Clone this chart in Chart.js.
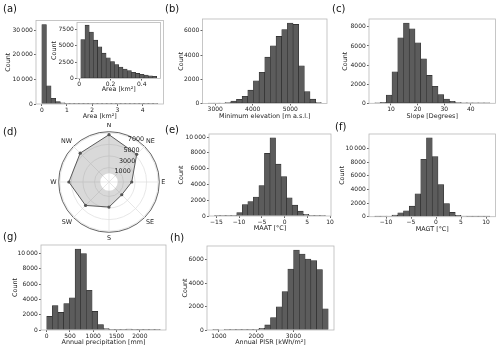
<!DOCTYPE html>
<html>
<head>
<meta charset="utf-8">
<script src="https://cdn.jsdelivr.net/npm/chart.js@4.4.0/dist/chart.umd.min.js"></script>
<style>
  body { margin: 0; background: #fff; }
  #wrap { position: relative; width: 500px; height: 351px; overflow: hidden; font-family: 'DejaVu Sans', sans-serif; }
  canvas { position: absolute; left: 0; top: 0; }
  .lab { position: absolute; font-size: 10px; line-height: 12px; color: #111; }
</style>
</head>
<body>
<div id="wrap">
  <canvas id="cA" width="500" height="351"></canvas>
  <canvas id="cAi" width="500" height="351"></canvas>
  <canvas id="cB" width="500" height="351"></canvas>
  <canvas id="cC" width="500" height="351"></canvas>
  <canvas id="cE" width="500" height="351"></canvas>
  <canvas id="cF" width="500" height="351"></canvas>
  <canvas id="cG" width="500" height="351"></canvas>
  <canvas id="cH" width="500" height="351"></canvas>
  <canvas id="cD" width="120" height="120" style="left:48px;top:123px"></canvas>
  <div class="lab" style="left:3px;top:3px">(a)</div>
  <div class="lab" style="left:165px;top:3px">(b)</div>
  <div class="lab" style="left:332px;top:3px">(c)</div>
  <div class="lab" style="left:3px;top:126px">(d)</div>
  <div class="lab" style="left:165px;top:124px">(e)</div>
  <div class="lab" style="left:335px;top:121px">(f)</div>
  <div class="lab" style="left:3px;top:231px">(g)</div>
  <div class="lab" style="left:170px;top:232px">(h)</div>
</div>
<script>
// (a) area, all glaciers
var areaStart = 0, areaWidth = 0.184;
var areaCounts = [32300, 7400, 2300, 950, 450, 250, 150, 100, 70, 50, 35, 25, 20, 15, 12, 10, 8, 6, 5, 4, 3, 2, 2, 1, 1];
var areaXTicks = [0, 1, 2, 3, 4];
var areaYTicks = [0, 10000, 20000, 30000];

// (a) inset, small glaciers
var smallStart = 0.01, smallWidth = 0.027;
var smallCounts = [5970, 8160, 7100, 5870, 4840, 3880, 3180, 2600, 2130, 1750, 1450, 1200, 950, 780, 640, 520, 420, 330];
var smallXTicks = [0, 0.2, 0.4];
var smallYTicks = [0, 2500, 5000, 7500];

// (b) minimum elevation
var elevStart = 2812, elevWidth = 150.8;
var elevCounts = [5, 15, 30, 80, 200, 350, 600, 1100, 1880, 2570, 3820, 4760, 5540, 6100, 6640, 6530, 3100, 980, 360, 80];
var elevXTicks = [3000, 4000, 5000];
var elevYTicks = [0, 2000, 4000, 6000];

// (c) slope
var slopeStart = 3.9, slopeWidth = 2.16;
var slopeCounts = [10, 100, 870, 3300, 6850, 8400, 7800, 6330, 4650, 2920, 1780, 920, 440, 200, 80, 40, 20, 10, 5, 2];
var slopeXTicks = [10, 20, 30, 40];
var slopeYTicks = [0, 2000, 4000, 6000, 8000];

// (d) aspect
var dirLabels = ['N', 'NE', 'E', 'SE', 'S', 'SW', 'W', 'NW'];
var dirCounts = [6680, 5270, 2430, 1620, 2830, 4230, 5440, 5550];
var dirTicks = [1000, 3000, 5000, 7000];

// (e) MAAT
var maatStart = -15.4, maatWidth = 1.22;
var maatCounts = [5, 10, 30, 100, 420, 1460, 1830, 2410, 3870, 7940, 9900, 6570, 4990, 2290, 1370, 620, 210, 80, 30, 10];
var maatXTicks = [-15, -10, -5, 0, 5, 10];
var maatYTicks = [0, 2000, 4000, 6000, 8000, 10000];

// (f) MAGT
var magtStart = -12.25, magtWidth = 1.15;
var magtCounts = [10, 40, 100, 250, 580, 870, 1550, 3380, 8450, 11590, 8840, 4730, 1930, 630, 190, 60, 20, 10, 5, 2];
var magtXTicks = [-10, -5, 0, 5, 10];
var magtYTicks = [0, 2000, 4000, 6000, 8000, 10000];

// (g) precipitation
var precStart = 0, precWidth = 122;
var precCounts = [1780, 3200, 2310, 3470, 4220, 10600, 10000, 5200, 2440, 710, 180, 100, 80, 100, 120, 20, 30, 30, 10, 5];
var precXTicks = [0, 500, 1000, 1500, 2000];
var precYTicks = [0, 2000, 4000, 6000, 8000, 10000];

// (h) PISR
var pisrStart = 835, pisrWidth = 155;
var pisrCounts = [2, 0, 3, 5, 8, 10, 20, 50, 150, 430, 1050, 1980, 3260, 5190, 6810, 6470, 6040, 5900, 5150, 1800];
var pisrXTicks = [1000, 2000, 3000];
var pisrYTicks = [0, 2000, 4000, 6000];

var FONT = { family: 'DejaVu Sans', size: 6.4 };
var TICKFONT = { family: 'DejaVu Sans', size: 6 };
var INK = '#222';
var SPINE = '#b8b8b8';
var BAR = '#5c5c5c';
var EDGE = '#2b2b2b';

Chart.defaults.font.family = 'DejaVu Sans';

function fmt(v) {
    var a = Math.abs(v);
    var s = a >= 10000 ? String(a).replace(/(\d)(?=(\d{3})+$)/g, '$1\u2009') : String(Math.round(a * 1000) / 1000);
    return (v < 0 ? '\u2212' : '') + s;
}

// box around the plot area, like matplotlib spines
var frame = {
    id: 'frame',
    beforeDraw: function (chart, args, o) {
        if (!o.fill) return;
        var a = chart.chartArea, ctx = chart.ctx;
        ctx.save();
        ctx.fillStyle = '#fff';
        ctx.fillRect(a.left, a.top, a.right - a.left, a.bottom - a.top);
        ctx.restore();
    },
    afterDraw: function (chart) {
        var a = chart.chartArea, ctx = chart.ctx;
        ctx.save();
        ctx.strokeStyle = SPINE;
        ctx.lineWidth = 0.8;
        ctx.strokeRect(a.left, a.top, a.right - a.left, a.bottom - a.top);
        ctx.restore();
    }
};

function axis(ticks, text, min, max, size, horiz) {
    return {
        type: 'linear', min: min, max: max, offset: false,
        grid: { display: true, drawOnChartArea: false, drawTicks: true, tickLength: 2, tickColor: INK, tickWidth: 0.7, offset: false },
        border: { display: false },
        ticks: { font: TICKFONT, color: INK, padding: horiz ? 0.5 : 1.2, maxRotation: 0, autoSkip: false,
            callback: function (v) { return fmt(v); } },
        afterBuildTicks: function (s) { s.ticks = ticks.map(function (v) { return { value: v }; }); },
        afterFit: function (s) { if (horiz) s.height = size; else s.width = size; },
        title: { display: true, text: text, font: FONT, color: INK, padding: 0 }
    };
}

function hist(id, box, start, width, counts, xTicks, yTicks, xText, yTitleX, xTitleOff, fill) {
    var lh = FONT.size * 1.2;
    var span = width * counts.length;
    var yW = box.l - (yTitleX - lh / 2);
    var xH = (xTitleOff || 12.8) + lh / 2;
    return new Chart(document.getElementById(id), {
        type: 'bar',
        data: {
            datasets: [{
                data: counts.map(function (c, i) { return { x: start + width * (i + 0.5), y: c }; }),
                backgroundColor: BAR,
                borderColor: EDGE,
                borderWidth: 0.6,
                borderSkipped: false,
                barPercentage: 1,
                categoryPercentage: 1
            }]
        },
        options: {
            responsive: false,
            animation: false,
            layout: { autoPadding: false, padding: { left: box.l - yW, top: box.t, right: 500 - box.r, bottom: 351 - box.b - xH } },
            plugins: { legend: { display: false }, tooltip: { enabled: false }, frame: { fill: !!fill } },
            scales: {
                x: axis(xTicks, xText, start - span * 0.05, start + span * 1.05, xH, true),
                y: axis(yTicks, 'Count', 0, Math.max.apply(null, counts) * 1.05, yW, false)
            }
        },
        plugins: [frame]
    });
}

hist('cA', { l: 36, t: 20.5, r: 163.5, b: 104 }, areaStart, areaWidth, areaCounts, areaXTicks, areaYTicks, 'Area [km\u00b2]', 8.3);
hist('cAi', { l: 77, t: 22.5, r: 160.5, b: 78.5 }, smallStart, smallWidth, smallCounts, smallXTicks, smallYTicks, 'Area [km\u00b2]', 54.5, 11, true);
hist('cB', { l: 202.5, t: 19, r: 327, b: 103.5 }, elevStart, elevWidth, elevCounts, elevXTicks, elevYTicks, 'Minimum elevation [m a.s.l.]', 181);
hist('cC', { l: 369, t: 19, r: 495.5, b: 103.3 }, slopeStart, slopeWidth, slopeCounts, slopeXTicks, slopeYTicks, 'Slope [Degrees]', 345);
hist('cE', { l: 209, t: 134, r: 331, b: 216 }, maatStart, maatWidth, maatCounts, maatXTicks, maatYTicks, 'MAAT [\u00b0C]', 181.7);
hist('cF', { l: 369, t: 134, r: 495.5, b: 216.7 }, magtStart, magtWidth, magtCounts, magtXTicks, magtYTicks, 'MAGT [\u00b0C]', 342.5);
hist('cG', { l: 41, t: 245, r: 166, b: 330 }, precStart, precWidth, precCounts, precXTicks, precYTicks, 'Annual precipitation [mm]', 15);
hist('cH', { l: 207, t: 246, r: 334, b: 330 }, pisrStart, pisrWidth, pisrCounts, pisrXTicks, pisrYTicks, 'Annual PISR [kWh/m\u00b2]', 185);

// radial tick labels sit on a ray between N and NE
var radarTicks = {
    id: 'radarTicks',
    afterDraw: function (chart) {
        var s = chart.scales.r, ctx = chart.ctx;
        var a = 22.5 * Math.PI / 180;
        ctx.save();
        ctx.font = FONT.size + 'px "DejaVu Sans"';
        ctx.fillStyle = INK;
        ctx.textAlign = 'left';
        ctx.textBaseline = 'middle';
        dirTicks.forEach(function (v) {
            var r = s.getDistanceFromCenterForValue(v);
            ctx.fillText(String(v), s.xCenter + r * Math.sin(a), s.yCenter - r * Math.cos(a) + 3);
        });
        ctx.restore();
    }
};

var rMax = 7200;
new Chart(document.getElementById('cD'), {
    type: 'radar',
    data: {
        labels: dirLabels,
        datasets: [{
            data: dirCounts,
            fill: true,
            backgroundColor: 'rgba(128,128,128,0.3)',
            borderColor: '#5a5a5a',
            borderWidth: 1,
            pointRadius: 1.6,
            pointBorderWidth: 0,
            pointBackgroundColor: '#555'
        }]
    },
    options: {
        responsive: false,
        animation: false,
        layout: { padding: 0 },
        plugins: { legend: { display: false }, tooltip: { enabled: false } },
        scales: {
            r: {
                min: -1500, max: rMax,
                afterBuildTicks: function (s) { s.ticks = dirTicks.concat([rMax]).map(function (v) { return { value: v }; }); },
                ticks: { display: false },
                grid: {
                    circular: true,
                    color: function (c) { return c.tick && c.tick.value === rMax ? '#555' : '#dcdcdc'; },
                    lineWidth: function (c) { return c.tick && c.tick.value === rMax ? 0.9 : 0.7; }
                },
                angleLines: { color: '#dcdcdc', lineWidth: 0.7 },
                pointLabels: { font: FONT, color: INK, padding: 2 }
            }
        }
    },
    plugins: [radarTicks]
});
</script>
</body>
</html>
